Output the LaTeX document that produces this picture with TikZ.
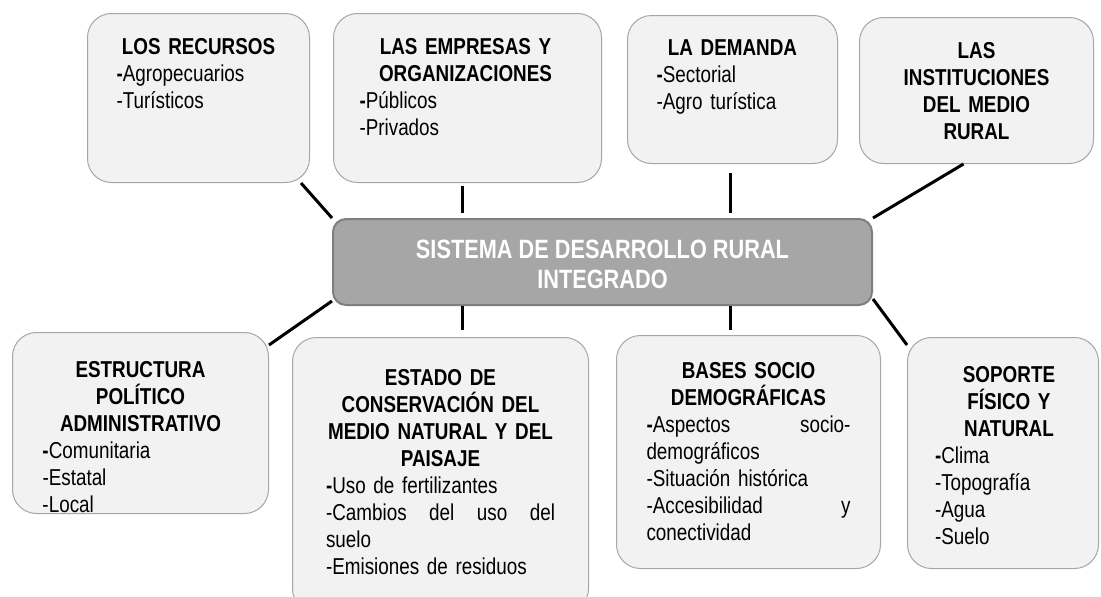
\documentclass[tikz,border=0pt]{standalone}
\usepackage{fontspec}
\setmainfont{Liberation Sans}[FakeStretch=0.82]
\definecolor{boxfill}{HTML}{F2F2F2}
\definecolor{boxline}{HTML}{A6A6A6}
\definecolor{hubfill}{HTML}{A6A6A6}
\definecolor{hubline}{HTML}{7F7F7F}
\begin{document}
\begin{tikzpicture}[x=1pt,y=-1pt,
	box/.style={draw=boxline,fill=boxfill,line width=1pt,rounded corners=24pt,anchor=north west,inner sep=0pt},
	txt/.style={anchor=north,inner sep=0pt,font=\fontsize{23}{27}\selectfont},
	link/.style={line width=3pt,black}]
		\useasboundingbox (0,0) rectangle (1101,597);

		% draw central box
		\node(hub) at (332,218) [anchor=north west,draw=hubline,fill=hubfill,line width=2pt,rounded corners=13pt,minimum width=539pt,minimum height=86pt] {};
		\node(hub-t) at ([yshift=-2pt]hub.center) [align=center,text=white,font=\fontsize{26.5}{30}\selectfont\bfseries] {SISTEMA DE DESARROLLO RURAL\\INTEGRADO};

		% draw upper boxes
		\node(recursos) at (87,13) [box,minimum width=222pt,minimum height=169pt] {};
		\node(empresas) at (333,13) [box,minimum width=268pt,minimum height=169pt] {};
		\node(demanda) at (627,15) [box,minimum width=210pt,minimum height=148pt] {};
		\node(instituciones) at (859,17) [box,minimum width=234pt,minimum height=146pt] {};

		% draw lower boxes
		\node(estructura) at (12,332) [box,minimum width=256pt,minimum height=181pt] {};
		\node(estado) at (292,337) [box,minimum width=296pt,minimum height=275pt] {};
		\node(bases) at (616,335) [box,minimum width=264pt,minimum height=233pt] {};
		\node(soporte) at (907,337) [box,minimum width=191pt,minimum height=231pt] {};

		% texts of the upper boxes
		\node(recursos-t) at ([yshift=-25pt]recursos.north) [txt,text width=164pt]
			{{\centering\bfseries LOS RECURSOS\par}\textbf{-}Agropecuarios\par -Turísticos};
		\node(empresas-t) at ([xshift=-2pt,yshift=-25pt]empresas.north) [txt,text width=212pt]
			{{\centering\bfseries LAS EMPRESAS Y\\ORGANIZACIONES\par}\textbf{-}Públicos\par -Privados};
		\node(demanda-t) at ([yshift=-24pt]demanda.north) [txt,text width=152pt]
			{{\centering\bfseries LA DEMANDA\par}\textbf{-}Sectorial\par -Agro turística};
		\node(instituciones-t) at ([yshift=-25pt]instituciones.north) [txt,text width=200pt]
			{{\centering\bfseries LAS\\INSTITUCIONES\\DEL MEDIO\\RURAL\par}};

		% texts of the lower boxes
		\node(estructura-t) at ([yshift=-29pt]estructura.north) [txt,text width=196pt]
			{{\centering\bfseries ESTRUCTURA\\POLÍTICO\\ADMINISTRATIVO\par}\textbf{-}Comunitaria\par -Estatal\par -Local};
		\node(estado-t) at ([yshift=-32pt]estado.north) [txt,text width=229pt]
			{{\centering\bfseries ESTADO DE\\CONSERVACIÓN DEL\\MEDIO NATURAL Y DEL\\PAISAJE\par}\textbf{-}Uso de fertilizantes\par -Cambios\hfill del\hfill uso\hfill del\par suelo\par -Emisiones de residuos};
		\node(bases-t) at ([yshift=-27pt]bases.north) [txt,text width=204pt]
			{{\centering\bfseries BASES SOCIO\\DEMOGRÁFICAS\par}\textbf{-}Aspectos\hfill socio-\par demográficos\par -Situación histórica\par -Accesibilidad\hfill y\par conectividad};
		\node(soporte-t) at ([xshift=6pt,yshift=-29pt]soporte.north) [txt,text width=148pt]
			{{\centering\bfseries SOPORTE\\FÍSICO Y\\NATURAL\par}\textbf{-}Clima\par -Topografía\par -Agua\par -Suelo};

		% draw lines between hub and boxes
		\draw[link] (hub.north west) -- ([xshift=-9pt]recursos.south east);
		\draw[link,shorten <=3pt,shorten >=5pt] ([xshift=-5pt]empresas.south) -- ([xshift=-5pt]empresas.south |- hub.north);
		\draw[link,shorten <=9pt,shorten >=5pt] ([xshift=-2pt]demanda.south) -- ([xshift=-2pt]demanda.south |- hub.north);
		\draw[link] (hub.north east) -- ([xshift=-13pt]instituciones.south);
		\draw[link] ([yshift=5pt]hub.south west) -- ([yshift=-13pt]estructura.north east);
		\draw[link,shorten >=7pt] ([xshift=22pt]estado.north |- hub.south) -- ([xshift=22pt]estado.north);
		\draw[link,shorten >=5pt] ([xshift=-18pt]bases.north |- hub.south) -- ([xshift=-18pt]bases.north);
		\draw[link] ([yshift=7pt]hub.south east) -- ([yshift=-8pt]soporte.north west);
\end{tikzpicture}
\end{document}
